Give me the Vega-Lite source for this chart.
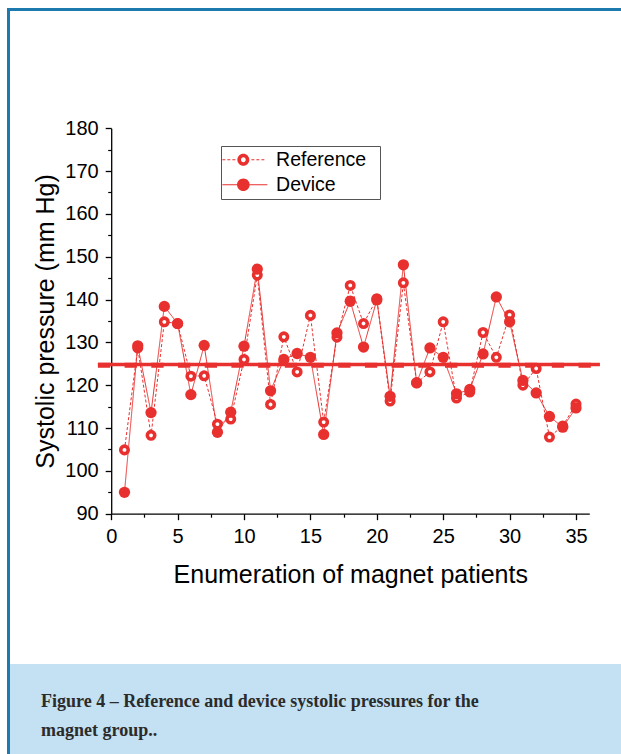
{
  "$schema": "https://vega.github.io/schema/vega-lite/v6.json",
  "padding": {"left": 7, "top": 8, "right": 0, "bottom": 0},
  "background": "white",
  "spacing": 0,
  "bounds": "flush",
  "config": {"view": {"stroke": null}, "font": "Liberation Sans"},
  "datasets": {
    "bp": [
      {"patient": 1, "series": "Reference", "pressure": 104.9}, {"patient": 1, "series": "Device", "pressure": 95.0},
      {"patient": 2, "series": "Reference", "pressure": 128.7}, {"patient": 2, "series": "Device", "pressure": 129.2},
      {"patient": 3, "series": "Reference", "pressure": 108.3}, {"patient": 3, "series": "Device", "pressure": 113.6},
      {"patient": 4, "series": "Reference", "pressure": 134.8}, {"patient": 4, "series": "Device", "pressure": 138.4},
      {"patient": 5, "series": "Reference", "pressure": 134.4}, {"patient": 5, "series": "Device", "pressure": 134.4},
      {"patient": 6, "series": "Reference", "pressure": 122.1}, {"patient": 6, "series": "Device", "pressure": 117.8},
      {"patient": 7, "series": "Reference", "pressure": 122.2}, {"patient": 7, "series": "Device", "pressure": 129.3},
      {"patient": 8, "series": "Reference", "pressure": 110.9}, {"patient": 8, "series": "Device", "pressure": 109.0},
      {"patient": 9, "series": "Reference", "pressure": 112.1}, {"patient": 9, "series": "Device", "pressure": 113.7},
      {"patient": 10, "series": "Reference", "pressure": 126.0}, {"patient": 10, "series": "Device", "pressure": 129.1},
      {"patient": 11, "series": "Reference", "pressure": 145.7}, {"patient": 11, "series": "Device", "pressure": 147.1},
      {"patient": 12, "series": "Reference", "pressure": 115.5}, {"patient": 12, "series": "Device", "pressure": 118.7},
      {"patient": 13, "series": "Reference", "pressure": 131.3}, {"patient": 13, "series": "Device", "pressure": 126.0},
      {"patient": 14, "series": "Reference", "pressure": 123.1}, {"patient": 14, "series": "Device", "pressure": 127.4},
      {"patient": 15, "series": "Reference", "pressure": 136.3}, {"patient": 15, "series": "Device", "pressure": 126.5},
      {"patient": 16, "series": "Reference", "pressure": 111.4}, {"patient": 16, "series": "Device", "pressure": 108.5},
      {"patient": 17, "series": "Reference", "pressure": 131.2}, {"patient": 17, "series": "Device", "pressure": 132.2},
      {"patient": 18, "series": "Reference", "pressure": 143.3}, {"patient": 18, "series": "Device", "pressure": 139.6},
      {"patient": 19, "series": "Reference", "pressure": 134.4}, {"patient": 19, "series": "Device", "pressure": 128.9},
      {"patient": 20, "series": "Reference", "pressure": 140.2}, {"patient": 20, "series": "Device", "pressure": 139.9},
      {"patient": 21, "series": "Reference", "pressure": 116.3}, {"patient": 21, "series": "Device", "pressure": 117.4},
      {"patient": 22, "series": "Reference", "pressure": 143.9}, {"patient": 22, "series": "Device", "pressure": 148.1},
      {"patient": 23, "series": "Reference", "pressure": 120.5}, {"patient": 23, "series": "Device", "pressure": 120.6},
      {"patient": 24, "series": "Reference", "pressure": 123.1}, {"patient": 24, "series": "Device", "pressure": 128.7},
      {"patient": 25, "series": "Reference", "pressure": 134.8}, {"patient": 25, "series": "Device", "pressure": 126.5},
      {"patient": 26, "series": "Reference", "pressure": 117.0}, {"patient": 26, "series": "Device", "pressure": 118.0},
      {"patient": 27, "series": "Reference", "pressure": 118.4}, {"patient": 27, "series": "Device", "pressure": 119.0},
      {"patient": 28, "series": "Reference", "pressure": 132.3}, {"patient": 28, "series": "Device", "pressure": 127.3},
      {"patient": 29, "series": "Reference", "pressure": 126.5}, {"patient": 29, "series": "Device", "pressure": 140.6},
      {"patient": 30, "series": "Reference", "pressure": 136.4}, {"patient": 30, "series": "Device", "pressure": 134.8},
      {"patient": 31, "series": "Reference", "pressure": 120.0}, {"patient": 31, "series": "Device", "pressure": 121.1},
      {"patient": 32, "series": "Reference", "pressure": 123.9}, {"patient": 32, "series": "Device", "pressure": 118.2},
      {"patient": 33, "series": "Reference", "pressure": 107.9}, {"patient": 33, "series": "Device", "pressure": 112.7},
      {"patient": 34, "series": "Reference", "pressure": 110.5}, {"patient": 34, "series": "Device", "pressure": 110.2},
      {"patient": 35, "series": "Reference", "pressure": 115.6}, {"patient": 35, "series": "Device", "pressure": 114.7}
    ],
    "means": [{"line": "solid", "pressure": 124.85}],
    "means2": [{"line": "dashed", "pressure": 124.65}]
  },
  "hconcat": [
    {
      "width": 3, "height": 746,
      "data": {"values": []},
      "mark": "point",
      "view": {"fill": "#1c7aae", "stroke": null}
    },
    {
      "spacing": 0,
      "bounds": "flush",
      "vconcat": [
        {
          "width": 611, "height": 3,
          "data": {"values": []},
          "mark": "point",
          "view": {"fill": "#1c7aae", "stroke": null}
        },
        {
          "width": 611, "height": 653,
          "view": {"fill": "white", "stroke": null},
          "resolve": {"axis": {"x": "independent", "y": "independent"}},
          "layer": [
            {
              "data": {"name": "bp"},
              "mark": {"type": "line", "strokeWidth": 1},
              "encoding": {
                "x": {
                  "field": "patient", "type": "quantitative",
                  "scale": {"domain": [0, 36], "range": [101.2, 579.3], "nice": false, "zero": false},
                  "axis": {
                    "orient": "bottom", "offset": -150.3,
                    "values": [0, 5, 10, 15, 20, 25, 30, 35],
                    "title": "Enumeration of magnet patients",
                    "titleFont": "Liberation Sans", "titleFontSize": 25, "titleFontWeight": "normal", "titleColor": "black", "titlePadding": 16,
                    "labelFont": "Liberation Sans", "labelFontSize": 20, "labelColor": "black", "labelPadding": 7,
                    "labelFlush": false, "labelOverlap": false,
                    "tickSize": 6, "tickWidth": 1.3, "tickColor": "black",
                    "domainColor": "black", "domainWidth": 1.3, "grid": false
                  }
                },
                "y": {
                  "field": "pressure", "type": "quantitative",
                  "scale": {"domain": [90, 180], "range": [502.7, 117.2], "nice": false, "zero": false},
                  "axis": {
                    "orient": "left", "offset": -101.2,
                    "values": [90, 100, 110, 120, 130, 140, 150, 160, 170, 180],
                    "title": "Systolic pressure (mm Hg)",
                    "titleFont": "Liberation Sans", "titleFontSize": 25, "titleFontWeight": "normal", "titleColor": "black", "titlePadding": 6,
                    "labelFont": "Liberation Sans", "labelFontSize": 20, "labelColor": "black", "labelPadding": 7,
                    "labelFlush": false, "labelOverlap": false,
                    "tickSize": 6, "tickWidth": 1.3, "tickColor": "black",
                    "domainColor": "black", "domainWidth": 1.3, "grid": false
                  }
                },
                "color": {
                  "field": "series", "type": "nominal",
                  "scale": {"domain": ["Reference", "Device"], "range": ["#e8302e", "#e8302e"]},
                  "legend": {
                    "orient": "none", "legendX": 214, "legendY": 138, "title": null,
                    "padding": 4, "strokeColor": "#555555", "fillColor": "white",
                    "labelFont": "Liberation Sans", "labelFontSize": 19.5, "labelColor": "black",
                    "symbolType": {"expr": "datum.value === 'Reference' ? 'M-21,-0.5L-18,-0.5L-18,0.5L-21,0.5Z M-16,-0.5L-13,-0.5L-13,0.5L-16,0.5Z M-11,-0.5L-8,-0.5L-8,0.5L-11,0.5Z M8,-0.5L11,-0.5L11,0.5L8,0.5Z M13,-0.5L16,-0.5L16,0.5L13,0.5Z M18,-0.5L21,-0.5L21,0.5L18,0.5Z M-6,0A6,6 0 1,1 6,0A6,6 0 1,1 -6,0Z M-2.4,0A2.4,2.4 0 1,0 2.4,0A2.4,2.4 0 1,0 -2.4,0Z M132,0L132,0Z' : 'M-21,-0.6L24,-0.6L24,0.6L-21,0.6Z M-6.3,0A6.3,6.3 0 1,1 6.3,0A6.3,6.3 0 1,1 -6.3,0Z M132,0L132,0Z'"},
                    "symbolSize": 4, "symbolStrokeWidth": 0, "symbolFillColor": "#e8302e", "symbolOpacity": 1,
                    "symbolOffset": 8.6, "labelOffset": 23, "rowPadding": 4
                  }
                },
                "strokeDash": {
                  "field": "series", "type": "nominal",
                  "scale": {"domain": ["Reference", "Device"], "range": [[3, 2], [1, 0]]},
                  "legend": null
                }
              }
            },
            {
              "data": {"name": "means"},
              "mark": {"type": "rule", "strokeWidth": 3.5, "color": "#e8302e"},
              "encoding": {
                "y": {"field": "pressure", "type": "quantitative", "axis": null},
                "x": {"datum": -1, "type": "quantitative", "axis": null},
                "x2": {"datum": 36.8}
              }
            },
            {
              "data": {"name": "means2"},
              "mark": {"type": "rule", "strokeWidth": 5, "color": "#e8302e", "strokeDash": [12.3, 14.4]},
              "encoding": {
                "y": {"field": "pressure", "type": "quantitative", "axis": null},
                "x": {"datum": -1, "type": "quantitative", "axis": null},
                "x2": {"datum": 36.8}
              }
            },
            {
              "data": {"name": "bp"},
              "transform": [{"filter": "datum.series === 'Reference'"}],
              "mark": {"type": "circle", "fill": "white", "stroke": "#e8302e", "strokeWidth": 3.6, "size": 55, "opacity": 1},
              "encoding": {
                "x": {
                  "field": "patient", "type": "quantitative",
                  "axis": {
                    "orient": "bottom", "offset": -150.3,
                    "values": [2.5, 7.5, 12.5, 17.5, 22.5, 27.5, 32.5],
                    "title": null, "labels": false, "domain": false, "grid": false,
                    "tickSize": 3.5, "tickWidth": 1.2, "tickColor": "black"
                  }
                },
                "y": {
                  "field": "pressure", "type": "quantitative",
                  "axis": {
                    "orient": "left", "offset": -101.2,
                    "values": [95, 105, 115, 125, 135, 145, 155, 165, 175],
                    "title": null, "labels": false, "domain": false, "grid": false,
                    "tickSize": 3.5, "tickWidth": 1.2, "tickColor": "black"
                  }
                }
              }
            },
            {
              "data": {"name": "bp"},
              "transform": [{"filter": "datum.series === 'Device'"}],
              "mark": {"type": "circle", "color": "#e8302e", "size": 127, "opacity": 1},
              "encoding": {
                "x": {"field": "patient", "type": "quantitative", "axis": null},
                "y": {"field": "pressure", "type": "quantitative", "axis": null}
              }
            }
          ]
        },
        {
          "width": 611, "height": 90,
          "data": {"values": []},
          "mark": "point",
          "view": {"fill": "#c3e1f2", "stroke": null},
          "title": {
            "text": ["Figure 4 – Reference and device systolic pressures for the", "magnet group.."],
            "orient": "bottom", "anchor": "start", "frame": "group",
            "offset": -61, "dx": 31,
            "font": "Liberation Serif", "fontSize": 18, "fontWeight": "bold",
            "color": "#2b2b2b", "lineHeight": 29
          }
        }
      ]
    }
  ]
}
